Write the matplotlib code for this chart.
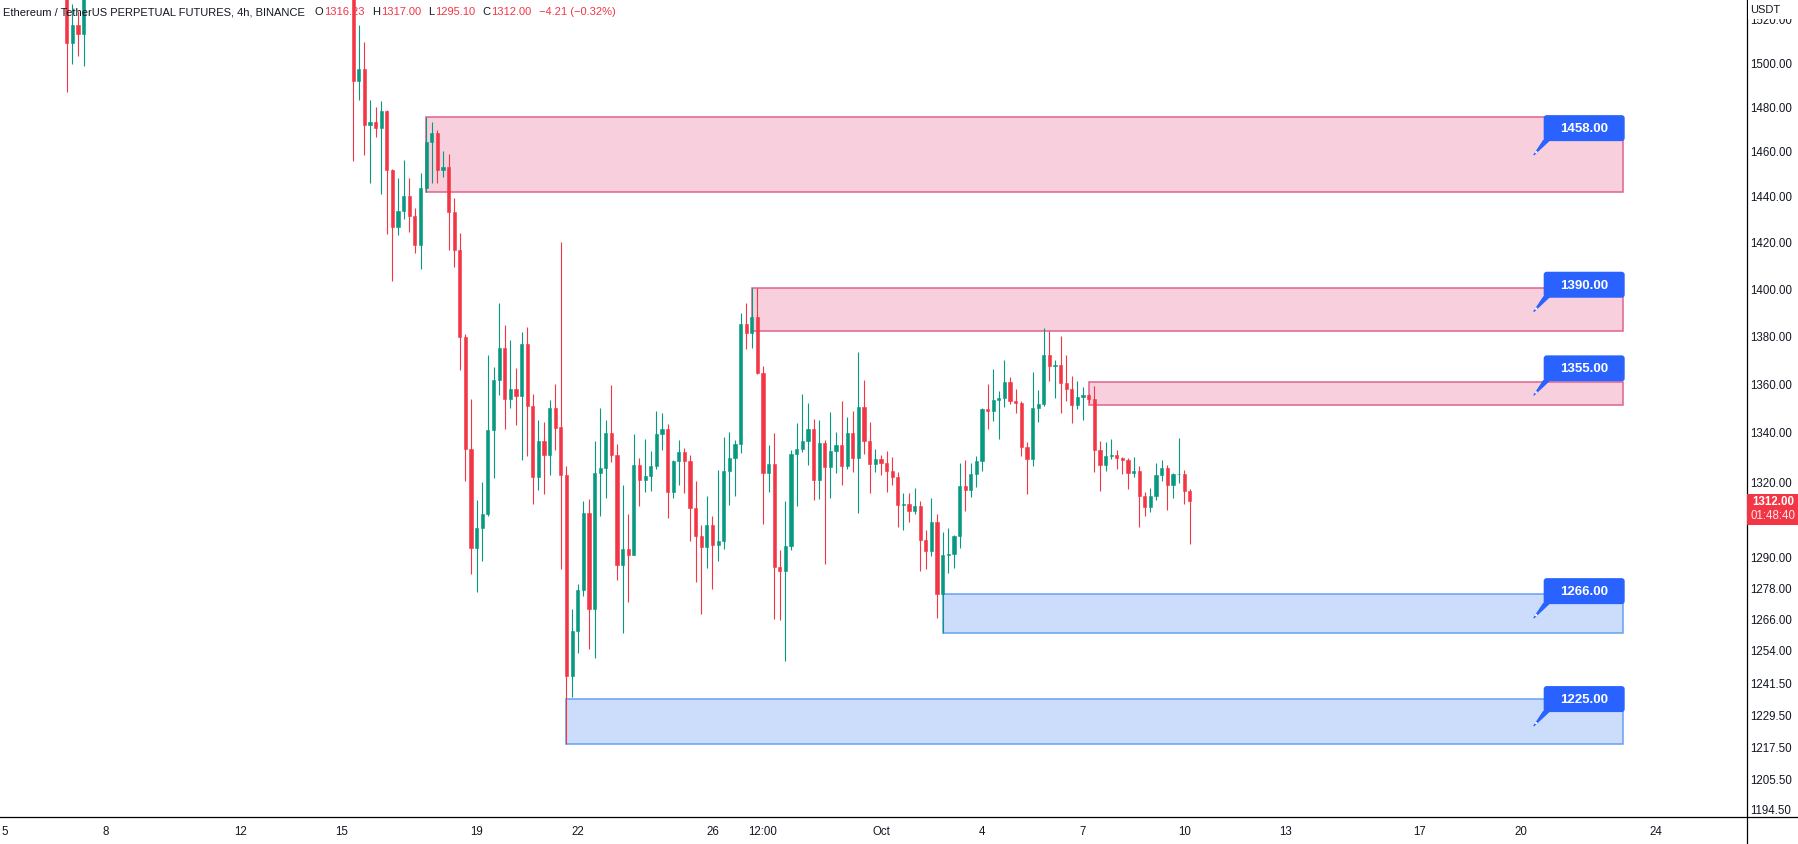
import numpy as np
import pandas as pd
import matplotlib
matplotlib.use("Agg")
from matplotlib import pyplot as plt
from matplotlib.patches import Rectangle, FancyBboxPatch, Polygon, Circle
from matplotlib.lines import Line2D
from matplotlib.transforms import IdentityTransform

plt.rcParams['font.family'] = ['Liberation Sans', 'DejaVu Sans']

UP = '#089981'
DOWN = '#F23645'
TEXT = '#131722'
BLUE = '#2962FF'

T0 = pd.Timestamp('2022-09-05')

# 4h candles. Only two stretches fall inside the price range of the chart.
early_start = '2022-09-06 20:00'
early_open = [1540, 1508.9, 1517.2, 1513.0]
early_high = [1548, 1526.8, 1523.6, 1550]
early_low = [1486.5, 1498.9, 1502.9, 1498.3]
early_close = [1508.9, 1517.2, 1513.0, 1540]

main_start = '2022-09-15 08:00'
main_open = [
    1565, 1491.5, 1496.9, 1471.6, 1472.9, 1470.3, 1477.9, 1451.6, 1426.5, 1433.5,
    1439.9, 1431.1, 1418.6, 1443.5, 1463.9, 1467.9, 1451.2, 1452.6, 1432.9, 1416.3,
    1379.5, 1333.1, 1293.4, 1301.3, 1306.9, 1340.6, 1361.4, 1374.6, 1353.6, 1357.7,
    1354.9, 1376.3, 1350.7, 1321.5, 1336.3, 1330.7, 1349.8, 1342.0, 1322.5, 1244.0,
    1261.2, 1276.9, 1307.4, 1269.4, 1323.1, 1325.5, 1339.5, 1330.7, 1286.6, 1293.1,
    1290.8, 1326.5, 1320.4, 1321.9, 1326.1, 1339.1, 1341.1, 1315.6, 1328.2, 1331.8,
    1328.2, 1309.2, 1298.2, 1293.6, 1302.4, 1294.4, 1296.0, 1324.3, 1329.5, 1335.1,
    1384.9, 1381.2, 1387.8, 1364.4, 1323.1, 1326.9, 1285.8, 1284.3, 1294.3, 1331.1,
    1333.1, 1336.3, 1341.1, 1320.4, 1335.5, 1325.8, 1332.3, 1334.7, 1326.1, 1339.5,
    1329.5, 1350.2, 1336.3, 1326.9, 1329.1, 1327.3, 1323.9, 1321.5, 1310.3, 1310.8,
    1308.2, 1310.0, 1296.5, 1292.3, 1303.8, 1275.2, 1290.7, 1291.1, 1298.1, 1318.2,
    1316.5, 1322.7, 1328.2, 1349.4, 1348.6, 1353.2, 1354.0, 1360.7, 1352.8, 1351.9,
    1333.9, 1329.1, 1349.8, 1351.5, 1371.8, 1367.3, 1367.7, 1360.2, 1357.7, 1351.1,
    1354.4, 1355.2, 1353.6, 1332.7, 1326.5, 1330.3, 1330.6, 1329.5, 1328.6, 1323.1,
    1323.9, 1313.9, 1309.5, 1313.9, 1322.3, 1325.5, 1318.6, 1322.7, 1322.9, 1316.23,
]
main_high = [
    1575, 1517.0, 1509.3, 1482.8, 1479.5, 1482.3, 1478.2, 1452.0, 1447.8, 1455.9,
    1447.8, 1434.7, 1450.1, 1475.0, 1472.9, 1469.2, 1459.9, 1458.5, 1439.0, 1423.9,
    1380.5, 1353.6, 1312.4, 1319.7, 1371.8, 1366.8, 1393.7, 1384.5, 1378.1, 1366.4,
    1381.4, 1383.6, 1355.6, 1345.0, 1344.2, 1353.2, 1359.8, 1419.9, 1326.1, 1269.4,
    1279.2, 1312.0, 1312.8, 1336.3, 1349.8, 1345.0, 1359.1, 1335.1, 1318.6, 1307.0,
    1339.1, 1329.5, 1337.1, 1332.3, 1348.6, 1347.8, 1343.3, 1328.6, 1336.7, 1333.4,
    1330.7, 1320.2, 1302.6, 1314.1, 1305.9, 1324.7, 1337.9, 1339.9, 1336.7, 1389.5,
    1393.7, 1400.1, 1400.1, 1367.3, 1334.7, 1339.5, 1292.7, 1312.0, 1332.7, 1343.7,
    1355.6, 1351.9, 1345.4, 1345.0, 1336.7, 1348.2, 1339.9, 1352.8, 1346.2, 1348.6,
    1373.1, 1361.4, 1344.2, 1333.1, 1330.7, 1332.3, 1329.9, 1323.5, 1315.2, 1315.2,
    1317.2, 1312.0, 1300.6, 1313.3, 1307.0, 1299.8, 1301.4, 1298.5, 1327.5, 1328.6,
    1327.3, 1330.3, 1349.8, 1359.8, 1366.0, 1356.9, 1369.8, 1362.6, 1357.7, 1352.8,
    1335.9, 1364.8, 1357.3, 1383.2, 1381.9, 1369.8, 1379.8, 1371.8, 1363.0, 1360.9,
    1358.5, 1355.6, 1358.9, 1336.3, 1335.9, 1337.1, 1332.7, 1329.9, 1329.5, 1329.9,
    1326.1, 1315.6, 1317.2, 1327.3, 1328.6, 1326.5, 1323.1, 1337.5, 1324.7, 1317.0,
]
main_low = [
    1455.2, 1482.5, 1458.1, 1445.5, 1466.3, 1440.6, 1423.2, 1403.3, 1422.7, 1430.0,
    1424.4, 1415.2, 1408.4, 1441.6, 1445.5, 1445.8, 1448.5, 1416.3, 1409.1, 1365.6,
    1320.1, 1283.1, 1276.1, 1288.3, 1305.9, 1321.1, 1355.2, 1341.1, 1349.8, 1342.8,
    1328.6, 1330.3, 1310.8, 1316.5, 1314.8, 1322.3, 1332.7, 1285.0, 1218.3, 1236.0,
    1252.6, 1274.5, 1254.1, 1250.6, 1305.9, 1313.3, 1327.9, 1281.0, 1260.1, 1272.1,
    1290.8, 1310.0, 1315.8, 1316.2, 1325.1, 1332.7, 1305.1, 1313.3, 1318.3, 1315.3,
    1296.2, 1279.9, 1267.6, 1285.6, 1277.4, 1288.3, 1292.8, 1310.4, 1314.1, 1331.2,
    1374.4, 1374.9, 1363.9, 1303.0, 1315.6, 1265.5, 1265.2, 1249.5, 1292.4, 1310.0,
    1331.9, 1326.6, 1312.5, 1312.9, 1287.0, 1313.3, 1323.1, 1318.6, 1325.1, 1323.5,
    1307.4, 1331.1, 1315.2, 1323.5, 1322.3, 1315.6, 1318.6, 1301.8, 1300.6, 1303.8,
    1307.0, 1284.2, 1285.0, 1290.1, 1265.9, 1260.4, 1283.4, 1285.4, 1293.5, 1308.2,
    1313.7, 1317.8, 1323.9, 1341.1, 1344.6, 1337.1, 1350.2, 1351.5, 1347.8, 1330.3,
    1314.8, 1326.1, 1344.2, 1350.7, 1360.9, 1354.0, 1347.8, 1352.8, 1343.7, 1349.4,
    1345.0, 1352.0, 1323.5, 1316.0, 1323.9, 1329.1, 1325.1, 1322.7, 1316.9, 1321.5,
    1301.8, 1306.2, 1307.8, 1312.4, 1320.2, 1308.6, 1313.3, 1319.4, 1310.8, 1295.1,
]
main_close = [
    1491.5, 1496.9, 1471.6, 1472.9, 1470.3, 1477.9, 1451.6, 1426.5, 1433.5, 1439.9,
    1431.1, 1418.6, 1443.5, 1463.9, 1467.9, 1451.2, 1452.6, 1432.9, 1416.3, 1379.5,
    1333.1, 1293.4, 1301.3, 1306.9, 1340.6, 1361.4, 1374.6, 1353.6, 1357.7, 1354.9,
    1376.3, 1350.7, 1321.5, 1336.3, 1330.7, 1349.8, 1341.6, 1322.5, 1244.0, 1261.2,
    1276.9, 1307.4, 1269.4, 1323.1, 1325.5, 1339.5, 1330.7, 1286.6, 1293.1, 1290.8,
    1326.5, 1320.4, 1321.9, 1326.1, 1339.1, 1341.1, 1315.6, 1328.2, 1331.8, 1328.2,
    1309.2, 1298.2, 1293.6, 1302.4, 1294.4, 1296.0, 1324.3, 1329.5, 1335.1, 1384.9,
    1381.2, 1387.8, 1364.4, 1323.1, 1326.9, 1285.8, 1284.3, 1294.3, 1331.1, 1333.1,
    1336.3, 1341.1, 1320.4, 1335.5, 1325.8, 1332.3, 1334.7, 1326.1, 1339.5, 1329.5,
    1350.2, 1336.3, 1326.9, 1329.1, 1327.3, 1323.9, 1321.5, 1310.3, 1310.8, 1308.2,
    1310.0, 1296.5, 1292.3, 1303.8, 1275.2, 1290.7, 1291.1, 1298.1, 1318.2, 1316.5,
    1322.7, 1328.2, 1349.4, 1348.6, 1353.2, 1354.0, 1360.7, 1352.8, 1351.9, 1333.9,
    1329.1, 1349.8, 1351.5, 1371.8, 1367.3, 1367.7, 1360.2, 1357.7, 1351.1, 1354.4,
    1355.2, 1353.6, 1332.7, 1326.5, 1330.3, 1330.6, 1329.5, 1328.6, 1323.1, 1323.9,
    1313.9, 1309.5, 1313.9, 1322.3, 1325.5, 1318.6, 1322.7, 1322.9, 1316.2, 1312.0,
]

# supply (pink) / demand (blue) zones
zone_start = ['2022-09-17 12:00', '2022-09-27 04:00', '2022-10-07 04:00',
              '2022-10-02 20:00', '2022-09-21 16:00']
zone_end = '2022-10-23 00:40'
zone_low = [1441.6, 1381.8, 1351.2, 1260.4, 1218.3]
zone_high = [1475.0, 1400.1, 1360.4, 1275.4, 1235.3]
zone_kind = ['supply', 'supply', 'supply', 'demand', 'demand']

callout_time = '2022-10-20 09:00'
callout_price = [1458, 1390, 1355, 1266, 1225]

price_ticks = [1520, 1500, 1480, 1460, 1440, 1420, 1400, 1380, 1360, 1340, 1320,
               1290, 1278, 1266, 1254, 1241.5, 1229.5, 1217.5, 1205.5, 1194.5]
time_ticks = ['2022-09-05', '2022-09-08', '2022-09-12', '2022-09-15', '2022-09-19',
              '2022-09-22', '2022-09-26', '2022-09-27 12:00', '2022-10-01', '2022-10-04',
              '2022-10-07', '2022-10-10', '2022-10-13', '2022-10-17', '2022-10-20',
              '2022-10-24']
time_labels = ['5', '8', '12', '15', '19', '22', '26', '12:00', 'Oct', '4', '7', '10',
               '13', '17', '20', '24']

last_price = 1312.00
countdown = '01:48:40'
title = 'Ethereum / TetherUS PERPETUAL FUTURES, 4h, BINANCE'
ohlc_text = [('O', '1316.23'), ('H', '1317.00'), ('L', '1295.10'), ('C', '1312.00')]
change_text = '\u22124.21 (\u22120.32%)'


def day(t):
    return (pd.Timestamp(t) - T0) / pd.Timedelta('1D')


def draw_candles(ax, start, o, h, l, c):
    t = pd.date_range(start, periods=len(o), freq='4h')
    x = ((t - T0) / pd.Timedelta('1D')).to_numpy()
    o, h, l, c = map(np.asarray, (o, h, l, c))
    col = np.where(c >= o, UP, DOWN)
    ax.vlines(x, l, h, colors=col, lw=0.8, zorder=3)
    ax.bar(x, np.abs(c - o), bottom=np.minimum(o, c), width=0.095,
           color=col, edgecolor=col, lw=0.4, zorder=4)


W, H = 1799, 845
fig = plt.figure(figsize=(W / 100, H / 100), dpi=100)
fig.patch.set_facecolor('white')
ax = fig.add_axes([0, 27 / H, 1747 / W, 818 / H])
ax.set_yscale('log')

for s, lo, hi, kind in zip(zone_start, zone_low, zone_high, zone_kind):
    if kind == 'supply':
        fc, ec = '#F8D0DD', '#E0628F'
    else:
        fc, ec = '#CCDDFB', '#64A0F5'
    x0 = day(s)
    ax.add_patch(Rectangle((x0, lo), day(zone_end) - x0, hi - lo,
                           fc=fc, ec=ec, lw=1.1, zorder=2))

draw_candles(ax, early_start, early_open, early_high, early_low, early_close)
draw_candles(ax, main_start, main_open, main_high, main_low, main_close)

ax.set_xlim(-5 / 33.69, 1742 / 33.69)
ax.set_ylim(1191.5, 1529.1)
for sp in ax.spines.values():
    sp.set_visible(False)

ax.yaxis.tick_right()
ax.yaxis.set_minor_locator(matplotlib.ticker.NullLocator())
ax.set_yticks(price_ticks)
ax.set_yticklabels(['%.2f' % p for p in price_ticks])
ax.tick_params(axis='y', length=0, pad=2.3, labelsize=8.3, labelcolor=TEXT)
ax.set_xticks([day(t) for t in time_ticks])
ax.set_xticklabels(time_labels)
ax.tick_params(axis='x', length=0, pad=6, labelsize=8.3, labelcolor=TEXT)

# axis border lines
fig.add_artist(Line2D([0, 1], [27 / H, 27 / H], transform=fig.transFigure, color='black', lw=0.9))
fig.add_artist(Line2D([1747 / W, 1747 / W], [0, 1], transform=fig.transFigure, color='black', lw=0.9))

# "USDT" header on the price scale, hiding the top of the 1520 label
fig.add_artist(Rectangle((1748, H - 20), 51, 20, transform=IdentityTransform(),
                         fc='white', ec='none', zorder=5))
fig.text(1750, H - 10, 'USDT', transform=IdentityTransform(), fontsize=8,
         color=TEXT, va='center', ha='left', zorder=6)

# last price tag
px, py = ax.transData.transform((0, last_price))
fig.add_artist(Rectangle((1747, py - 24), 52, 31, transform=IdentityTransform(),
                         fc=DOWN, ec='none', zorder=5))
fig.text(1773, py, '%.2f' % last_price, transform=IdentityTransform(), fontsize=8.3,
         fontweight='bold', color='white', ha='center', va='center', zorder=6)
fig.text(1773, py - 14, countdown, transform=IdentityTransform(), fontsize=8.3,
         color='#FDE8EA', ha='center', va='center', zorder=6)

# price callouts
for p in callout_price:
    tx, ty = ax.transData.transform((day(callout_time), p))
    fig.add_artist(FancyBboxPatch((tx + 10, ty + 14), 81, 26,
                                  boxstyle='round,pad=0,rounding_size=3',
                                  transform=IdentityTransform(), fc=BLUE, ec='none', zorder=5))
    fig.add_artist(Polygon([(tx, ty), (tx + 10, ty + 15), (tx + 16, ty + 15)], closed=True,
                           transform=IdentityTransform(), fc=BLUE, ec=BLUE, lw=0.8, zorder=5))
    fig.add_artist(Circle((tx + 2.5, ty + 3), 1.2, transform=IdentityTransform(),
                          fc='white', ec='none', zorder=6))
    fig.text(tx + 50.5, ty + 27, '%.2f' % p, transform=IdentityTransform(), fontsize=9.5,
             fontweight='bold', color='white', ha='center', va='center', zorder=6)

# legend line at the top left
renderer = fig.canvas.get_renderer()
x = 3
pieces = [(title, TEXT, 10)]
for k, v in ohlc_text:
    pieces.append((k, TEXT, 1))
    pieces.append((v, DOWN, 7))
pieces.append((change_text, DOWN, 0))
for s, color, gap in pieces:
    t = fig.text(x, H - 12.5, s, transform=IdentityTransform(), fontsize=8,
                 color=color, ha='left', va='center', zorder=6)
    x += t.get_window_extent(renderer).width + gap

fig.savefig('out.png', dpi=100, facecolor='white')
